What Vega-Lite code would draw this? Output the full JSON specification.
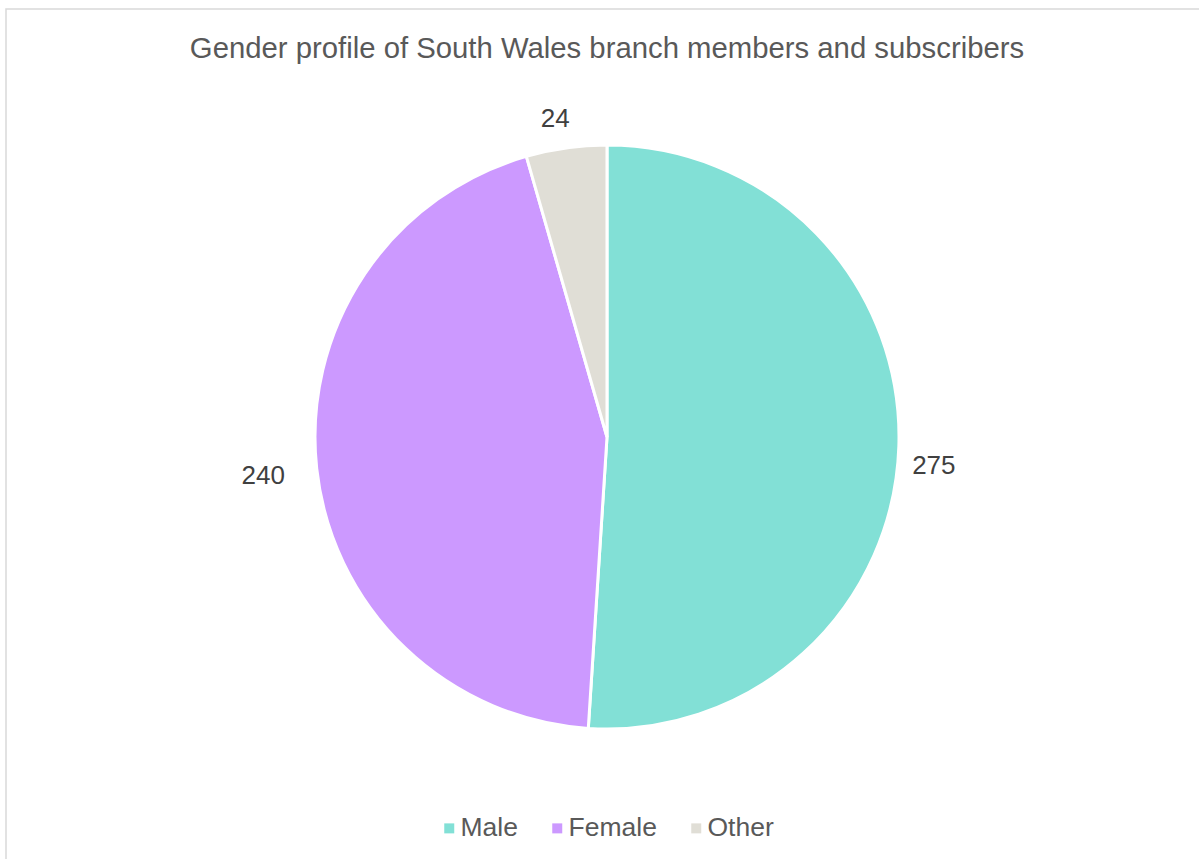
{
  "$schema": "https://vega.github.io/schema/vega-lite/v6.json",
  "width": 1202,
  "height": 856,
  "autosize": {"type": "none"},
  "padding": {"left": 6, "top": 9, "right": 0, "bottom": 0},
  "background": "white",
  "config": {
    "view": {"stroke": null},
    "font": "Liberation Sans"
  },
  "title": {
    "text": "Gender profile of South Wales branch members and subscribers",
    "anchor": "middle",
    "fontSize": 29.3,
    "fontWeight": "normal",
    "color": "#595959",
    "font": "Liberation Sans",
    "orient": "top",
    "baseline": "alphabetic",
    "offset": -79
  },
  "data": {
    "values": [
      {"gender": "Male", "count": 275},
      {"gender": "Female", "count": 240},
      {"gender": "Other", "count": 24}
    ]
  },
  "layer": [
    {
      "data": {"values": [{"frame": "chart area"}]},
      "mark": {"type": "rect", "fill": "transparent", "stroke": "#D9D9D9", "strokeWidth": 1.5},
      "encoding": {}
    },
    {
      "mark": {"type": "arc", "outerRadius": 292, "stroke": "white", "strokeWidth": 3},
      "encoding": {
        "theta": {"field": "count", "type": "quantitative", "stack": true},
        "order": {"field": "count", "type": "quantitative", "sort": "descending"},
        "color": {
          "field": "gender",
          "type": "nominal",
          "sort": ["Male", "Female", "Other"],
          "scale": {"domain": ["Male", "Female", "Other"], "range": ["#82E0D6", "#CC99FF", "#E0DED6"]},
          "legend": {
            "title": null,
            "orient": "none",
            "direction": "horizontal",
            "legendX": 430,
            "legendY": 806,
            "symbolType": "square",
            "symbolSize": 100,
            "symbolStrokeWidth": 0,
            "labelFontSize": 26.5,
            "labelColor": "#595959",
            "labelFont": "Liberation Sans",
            "labelOffset": -2,
            "columnPadding": 26
          }
        }
      }
    },
    {
      "mark": {"type": "text", "radius": 327, "dy": 19, "fontSize": 26, "font": "Liberation Sans"},
      "encoding": {
        "theta": {"field": "count", "type": "quantitative", "stack": true},
        "order": {"field": "count", "type": "quantitative", "sort": "descending"},
        "color": {"value": "#404040"},
        "text": {"condition": {"test": "datum.gender === 'Male'", "field": "count"}, "value": ""}
      }
    },
    {
      "mark": {"type": "text", "radius": 324, "dy": 4, "align": "right", "fontSize": 26, "font": "Liberation Sans"},
      "encoding": {
        "theta": {"field": "count", "type": "quantitative", "stack": true},
        "order": {"field": "count", "type": "quantitative", "sort": "descending"},
        "color": {"value": "#404040"},
        "text": {"condition": {"test": "datum.gender === 'Female'", "field": "count"}, "value": ""}
      }
    },
    {
      "mark": {"type": "text", "radius": 321, "dx": -7, "fontSize": 26, "font": "Liberation Sans"},
      "encoding": {
        "theta": {"field": "count", "type": "quantitative", "stack": true},
        "order": {"field": "count", "type": "quantitative", "sort": "descending"},
        "color": {"value": "#404040"},
        "text": {"condition": {"test": "datum.gender === 'Other'", "field": "count"}, "value": ""}
      }
    }
  ]
}
